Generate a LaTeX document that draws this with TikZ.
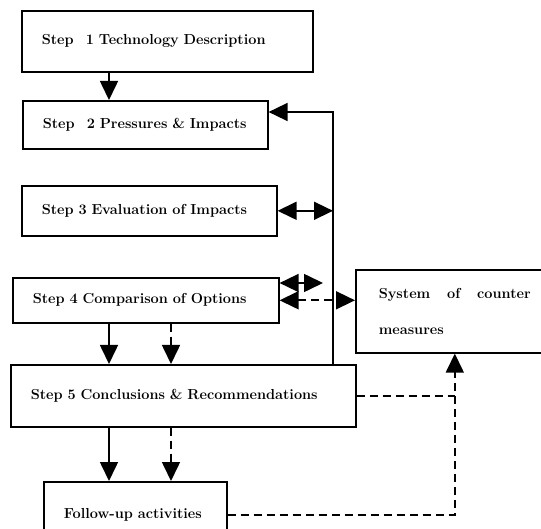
\documentclass[tikz,border=0pt]{standalone}
\usepackage{fontspec}
\usepackage{tikz}
\usetikzlibrary{arrows.meta}

\begin{document}
\begin{tikzpicture}[
                    x=1pt, y=-1pt,
                    >={Triangle[length=19pt,width=18pt]},
                    stepbox/.style={draw, rectangle, line width=1.6pt, anchor=north west, inner xsep=20pt, align=left, font=\fontsize{14.5}{17}\selectfont\bfseries},
                    link/.style={line width=1.6pt},
                    dline/.style={line width=1.6pt, dash pattern=on 8pt off 5pt}
                    ]
        \useasboundingbox (0,0) rectangle (541,529);
        \clip (0,0) rectangle (541,529);

        % steps
        \node [stepbox, text width=251pt, minimum height=61pt] (s1) at (21,10) {Step\enspace\ 1 Technology Description};
        \node [stepbox, text width=221pt, inner xsep=12pt, minimum height=48pt] (s2) at (22,100) {\hspace{8pt}Step\enspace\ 2 Pressures \& Impacts};
        \node [stepbox, text width=215pt, minimum height=50pt] (s3) at (21,185) {Step 3 Evaluation of Impacts};
        \node [stepbox, text width=226pt, minimum height=45pt] (s4) at (12,277) {Step 4 Comparison of Options};
        \node [stepbox, text width=305pt, minimum height=62pt] (s5) at (10,364) {Step 5 Conclusions \& Recommendations};
        \node [stepbox, text width=143pt, minimum height=66pt] (fu) at (43,481) {Follow-up activities};
        \node [stepbox, text width=152pt, minimum height=83pt, inner xsep=23pt, align=justify,
               font=\fontsize{14.5}{36}\selectfont\bfseries] (sys) at (355,269) {System of counter \mbox{measures}};

        % helper coordinates
        \coordinate (ca) at (109,0);
        \coordinate (cb) at (171,0);
        \coordinate (back) at (333,112);
        \coordinate (up4) at (323,283);

        \draw [link,->] (s1.south -| ca) -- (s2.north -| ca);
        \draw [link,->] (s5.north -| back) -- (back) -- (back -| s2.east);
        \draw [link,<->] (s3.east) -- (s3.east -| back);
        \draw [dline,<->] (up4 -| s4.east) -- (up4);
        \draw [dline,<->] (s4.east) -- (s4.east -| sys.west);

        \draw [link,->] (s4.south -| ca) -- (s5.north -| ca);
        \draw [dline,->] (s4.south -| cb) -- (s5.north -| cb);
        \draw [link,->] (s5.south -| ca) -- (fu.north -| ca);
        \draw [dline,->] (s5.south -| cb) -- (fu.north -| cb);

        \draw [dline] (s5.east) -- (s5.east -| sys.south);
        \draw [dline,->] (fu.east) -| (sys.south);
\end{tikzpicture}
\end{document}
